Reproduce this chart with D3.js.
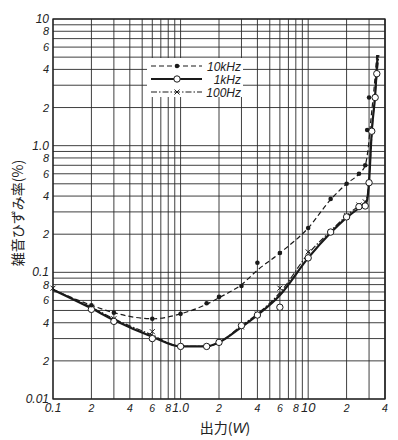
<!DOCTYPE html>
<html>
<head>
<meta charset="utf-8">
<script src="https://cdn.jsdelivr.net/npm/d3@7"></script>
<style>
  body { margin: 0; background: #fff; }
  svg text { font-family: 'Liberation Sans', 'DejaVu Sans', sans-serif; fill: #222; }
  .tick-label { font-style: italic; }
  .jp { font-family: 'Noto Sans CJK JP', sans-serif; }
</style>
</head>
<body>
<div id="chart"></div>
<script>
// output power (W) / distortion (%)
const series = ['10kHz', '1kHz', '100Hz'];

// measured points
const pts10k = [[0.2, 0.055], [0.3, 0.048], [0.6, 0.043], [1.0, 0.047], [1.6, 0.057], [2, 0.064],
    [3, 0.078], [4, 0.119], [6, 0.142], [10, 0.224], [15, 0.38], [20, 0.5], [25, 0.6], [28, 0.7],
    [29, 1.33], [30, 2.4]];
const pts1k = [[0.2, 0.051], [0.3, 0.041], [0.6, 0.030], [1.0, 0.026], [1.6, 0.026], [2, 0.028],
    [3, 0.038], [4, 0.046], [6, 0.053], [10, 0.13], [15, 0.208], [20, 0.274], [25, 0.33], [28, 0.334],
    [30, 0.51], [31.5, 1.3], [33.5, 2.4], [34.5, 3.7]];
const pts100 = [[0.1, 0.075], [0.2, 0.053], [0.3, 0.043], [0.6, 0.034], [1.0, 0.026], [1.6, 0.026],
    [2, 0.028], [3, 0.037], [4, 0.047], [6, 0.075], [10, 0.145], [15, 0.21], [20, 0.28], [25, 0.34],
    [28, 0.36]];

// drawn (fitted) curves
const fit10k = [[0.1, 0.073], [0.2, 0.055], [0.3, 0.048], [0.6, 0.043], [1, 0.047], [1.6, 0.056],
    [2, 0.063], [3, 0.08], [4, 0.104], [6, 0.142], [10, 0.224], [15, 0.375], [20, 0.5], [25, 0.6],
    [28, 0.7], [29.5, 0.95], [31, 1.6], [33, 3.0], [34.5, 5.2]];
const fit1k = [[0.1, 0.073], [0.2, 0.052], [0.3, 0.042], [0.6, 0.031], [1, 0.026], [1.6, 0.026],
    [2, 0.028], [3, 0.037], [4, 0.046], [6, 0.066], [10, 0.13], [15, 0.205], [20, 0.27], [25, 0.32],
    [28, 0.34], [29.3, 0.4], [30, 0.52], [31.5, 1.3], [33.5, 2.5], [35, 5.2]];
const fit100 = [[0.1, 0.073], [0.2, 0.053], [0.3, 0.043], [0.6, 0.032], [1, 0.026], [1.6, 0.026],
    [2, 0.028], [3, 0.038], [4, 0.047], [6, 0.069], [10, 0.14], [15, 0.212], [20, 0.28], [25, 0.335],
    [28, 0.36], [29.5, 0.45], [30.5, 0.7], [32, 1.5], [34, 3.0], [35.8, 5.2]];

const xTickLabels = [[0.1, '0.1'], [0.2, '2'], [0.4, '4'], [0.6, '6'], [0.8, '8'], [1, '1.0'],
    [2, '2'], [4, '4'], [6, '6'], [8, '8'], [10, '10'], [20, '2'], [40, '4']];
const yTickLabels = [[10, '10'], [8, '8'], [6, '6'], [4, '4'], [2, '2'], [1, '1.0'], [0.8, '8'],
    [0.6, '6'], [0.4, '4'], [0.2, '2'], [0.1, '0.1'], [0.08, '8'], [0.06, '6'], [0.04, '4'],
    [0.02, '2'], [0.01, '0.01']];

const W = 398, H = 440;
const x = d3.scaleLog().domain([0.1, 40]).range([53, 385]);
const y = d3.scaleLog().domain([0.01, 10]).range([399, 19]);

const svg = d3.select('#chart').append('svg').attr('width', W).attr('height', H);

// grid
const xGrid = [];
[0.1, 1, 10].forEach((d) => { for (let i = 1; i <= 9; i++) if (d * i <= 40) xGrid.push(d * i); });
xGrid.push(40);
const yGrid = [];
[0.01, 0.1, 1].forEach((d) => { for (let i = 1; i <= 9; i++) yGrid.push(d * i); });
yGrid.push(10);

const grid = svg.append('g').attr('stroke', '#2a2a2a').attr('stroke-width', 0.9);
grid.selectAll('line.v').data(xGrid).join('line')
    .attr('x1', (d) => x(d)).attr('x2', (d) => x(d))
    .attr('y1', y(10)).attr('y2', y(0.01));
grid.selectAll('line.h').data(yGrid).join('line')
    .attr('y1', (d) => y(d)).attr('y2', (d) => y(d))
    .attr('x1', x(0.1)).attr('x2', x(40));
svg.append('rect').attr('x', x(0.1)).attr('y', y(10))
    .attr('width', x(40) - x(0.1)).attr('height', y(0.01) - y(10))
    .attr('fill', 'none').attr('stroke', '#222').attr('stroke-width', 1.3);

// legend mask
svg.append('rect').attr('x', 147).attr('y', 58).attr('width', 96).attr('height', 39).attr('fill', '#fff');

// tick labels
svg.append('g').selectAll('text').data(yTickLabels).join('text')
    .attr('class', 'tick-label')
    .attr('x', 49).attr('y', (d) => y(d[0]) + 4)
    .attr('text-anchor', 'end')
    .attr('font-size', (d) => (d[1].length > 1 ? 12 : 11))
    .text((d) => d[1]);
svg.append('g').selectAll('text').data(xTickLabels).join('text')
    .attr('class', 'tick-label')
    .attr('x', (d) => x(d[0])).attr('y', 412)
    .attr('text-anchor', 'middle')
    .attr('font-size', (d) => (d[1] === '10' ? 13 : d[1].length > 1 ? 12 : 10.5))
    .text((d) => d[1]);

// axis titles
svg.append('text').attr('class', 'jp')
    .attr('transform', 'translate(23,213) rotate(-90)')
    .attr('text-anchor', 'middle').attr('font-size', 14)
    .text('雑音ひずみ率(%)');
const xt = svg.append('text').attr('class', 'jp')
    .attr('x', 225).attr('y', 433).attr('text-anchor', 'middle').attr('font-size', 14);
xt.append('tspan').text('出力(');
xt.append('tspan').attr('font-style', 'italic').attr('font-family', 'Liberation Sans, sans-serif').text('W');
xt.append('tspan').text(')');

// curves
const line = d3.line().x((d) => x(d[0])).y((d) => y(d[1])).curve(d3.curveMonotoneX);
const styles = {
    '10kHz': { dash: '5,3', width: 1.2 },
    '1kHz': { dash: null, width: 2.2 },
    '100Hz': { dash: '6,2,1.5,2', width: 1.2 },
};
const fits = { '10kHz': fit10k, '1kHz': fit1k, '100Hz': fit100 };
series.forEach((s) => {
    svg.append('path').datum(fits[s])
        .attr('d', line)
        .attr('fill', 'none')
        .attr('stroke', '#1a1a1a')
        .attr('stroke-width', styles[s].width)
        .attr('stroke-dasharray', styles[s].dash);
});

// markers
function drawMarker(g, s, px, py) {
    if (s === '10kHz') {
        g.append('circle').attr('cx', px).attr('cy', py).attr('r', 2.3).attr('fill', '#1a1a1a');
    } else if (s === '1kHz') {
        g.append('circle').attr('cx', px).attr('cy', py).attr('r', 3.2)
            .attr('fill', '#fff').attr('stroke', '#1a1a1a').attr('stroke-width', 1);
    } else {
        g.append('path').attr('d', `M${px - 2.5},${py - 2.5}L${px + 2.5},${py + 2.5}M${px - 2.5},${py + 2.5}L${px + 2.5},${py - 2.5}`)
            .attr('stroke', '#1a1a1a').attr('stroke-width', 1);
    }
}
const markG = svg.append('g');
pts100.forEach((d) => drawMarker(markG, '100Hz', x(d[0]), y(d[1])));
pts1k.forEach((d) => drawMarker(markG, '1kHz', x(d[0]), y(d[1])));
pts10k.forEach((d) => drawMarker(markG, '10kHz', x(d[0]), y(d[1])));

// legend
const legendY = [66, 79, 92];
series.forEach((s, i) => {
    const ly = legendY[i];
    svg.append('line').attr('x1', 151).attr('x2', 202).attr('y1', ly).attr('y2', ly)
        .attr('stroke', '#1a1a1a')
        .attr('stroke-width', s === '1kHz' ? 1.8 : 1.2)
        .attr('stroke-dasharray', styles[s].dash);
    drawMarker(svg, s, 177, ly);
    svg.append('text').attr('class', 'tick-label')
        .attr('x', 241).attr('y', ly + 4.5).attr('text-anchor', 'end').attr('font-size', 12)
        .text(s);
});
</script>
</body>
</html>
